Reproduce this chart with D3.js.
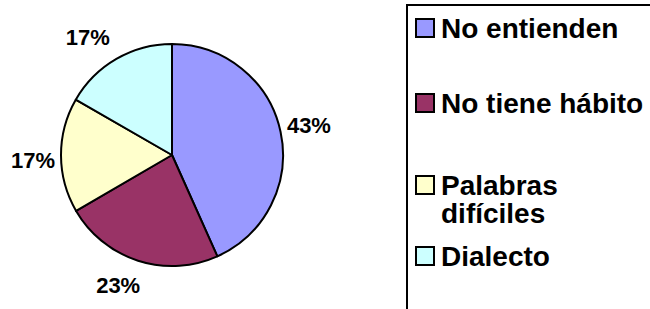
<!DOCTYPE html>
<html>
<head>
<meta charset="utf-8">
<script src="https://cdn.jsdelivr.net/npm/d3@7"></script>
<style>
  body { margin: 0; background: white; }
  svg { display: block; }
</style>
</head>
<body>
<script>
//Data
var categories = ["No entienden", "No tiene hábito", "Palabras difíciles", "Dialecto"];
var values = [43.3, 23.3, 16.7, 16.7];
var colors = ["#9999ff", "#993366", "#ffffcc", "#ccffff"];
var legendLines = [["No entienden"], ["No tiene hábito"], ["Palabras", "difíciles"], ["Dialecto"]];

//Config
var width = 650, height = 309;
var center = [172, 155];
var radius = 111;
var labelRadius = 140;
//small shifts so labels sit where the spreadsheet put them
var labelNudge = [[0, -1], [-11, -3], [1, 5], [-14, 3]];
var fontFamily = "'Liberation Sans', Arial, sans-serif";

var svg = d3.select("body").append("svg")
    .attr("width", width)
    .attr("height", height);

//pie slices, clockwise from 12 o'clock
var pie = d3.pie().sort(null).value(function(d) { return d; });
var arcs = pie(values);
var total = d3.sum(values);

var arc = d3.arc().innerRadius(0).outerRadius(radius);
var labelArc = d3.arc().innerRadius(labelRadius).outerRadius(labelRadius);

var g = svg.append("g").attr("transform", "translate(" + center[0] + "," + center[1] + ")");

g.selectAll("path")
    .data(arcs)
    .enter()
    .append("path")
    .attr("d", arc)
    .attr("fill", function(d, i) { return colors[i]; })
    .attr("stroke", "black")
    .attr("stroke-width", 2)
    .attr("stroke-linejoin", "round");

//percentage labels outside the pie
g.selectAll("text")
    .data(arcs)
    .enter()
    .append("text")
    .attr("transform", function(d, i) {
        var c = labelArc.centroid(d);
        return "translate(" + (c[0] + labelNudge[i][0]) + "," + (c[1] + labelNudge[i][1]) + ")";
    })
    .attr("text-anchor", "middle")
    .attr("dy", "0.36em")
    .style("font-family", fontFamily)
    .style("font-weight", "bold")
    .style("font-size", "22px")
    .text(function(d) { return Math.round(d.value / total * 100) + "%"; });

//legend box (bottom edge runs off the picture)
svg.append("rect")
    .attr("x", 407)
    .attr("y", 5)
    .attr("width", 260)
    .attr("height", 306)
    .attr("fill", "white")
    .attr("stroke", "black")
    .attr("stroke-width", 2);

var rowY = d3.scaleOrdinal().domain(categories).range([38, 113, 195, 266]);

var items = svg.selectAll(".item")
    .data(categories)
    .enter()
    .append("g")
    .attr("class", "item")
    .attr("transform", function(d) { return "translate(0," + rowY(d) + ")"; });

items.append("rect")
    .attr("x", 416)
    .attr("y", -19)
    .attr("width", 18)
    .attr("height", 18)
    .attr("fill", function(d, i) { return colors[i]; })
    .attr("stroke", "black")
    .attr("stroke-width", 2);

var texts = items.append("text")
    .attr("x", 441)
    .style("font-family", fontFamily)
    .style("font-weight", "bold")
    .style("font-size", "28px");

texts.selectAll("tspan")
    .data(function(d, i) { return legendLines[i]; })
    .enter()
    .append("tspan")
    .attr("x", 441)
    .attr("dy", function(d, i) { return i == 0 ? 0 : 28; })
    .text(function(d) { return d; });
</script>
</body>
</html>
